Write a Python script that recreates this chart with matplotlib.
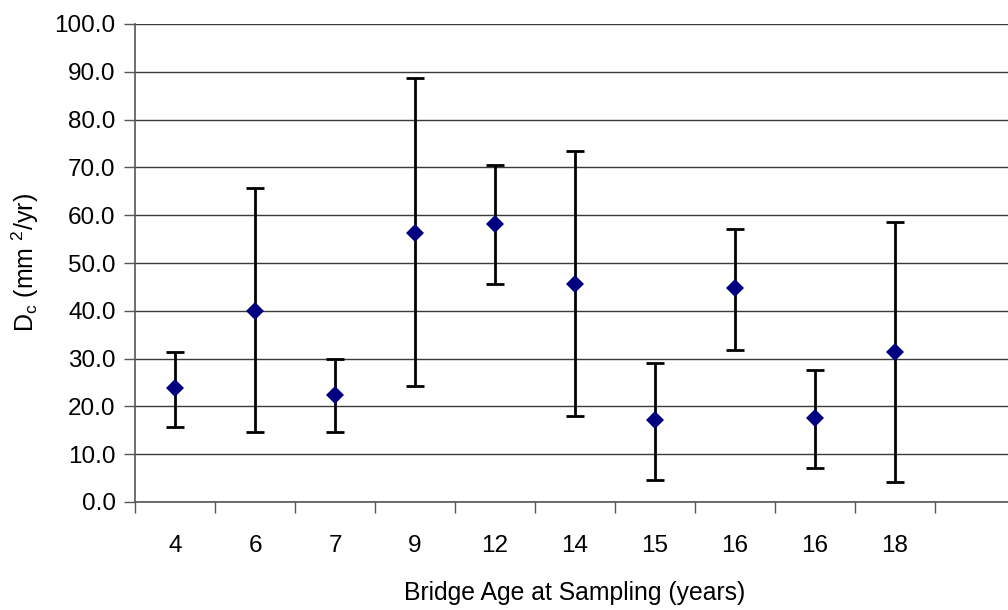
import numpy as np
import matplotlib.pyplot as plt

plt.rcParams['font.family'] = ['Liberation Sans', 'DejaVu Sans']

# bridge ages (two bridges were sampled at 16 years)
ages = ['4', '6', '7', '9', '12', '14', '15', '16', '16', '18']
dc_mean = [23.8, 40.0, 22.3, 56.2, 58.1, 45.7, 17.1, 44.7, 17.6, 31.4]
dc_upper = [31.3, 65.7, 29.9, 88.7, 70.5, 73.5, 29.0, 57.1, 27.6, 58.6]
dc_lower = [15.7, 14.7, 14.7, 24.2, 45.7, 18.0, 4.7, 31.9, 7.1, 4.2]

mean = np.array(dc_mean)
err = np.vstack([mean - np.array(dc_lower), np.array(dc_upper) - mean])
x = np.arange(len(ages)) + 0.5
n_slots = len(ages) + 1  # one empty category slot on the right

fig = plt.figure(figsize=(10.08, 6.10), dpi=100)
ax = fig.add_axes([135 / 1008, 1 - 502 / 610, 880 / 1008, 478 / 610])

ax.errorbar(x, mean, yerr=err, fmt='none', ecolor='black',
            elinewidth=2, capsize=6.5, capthick=2, zorder=3)
ax.plot(x, mean, linestyle='none', marker='D', markersize=9,
        color='#000080', markeredgewidth=0, zorder=4)

ax.set_xlim(0, n_slots)
ax.set_ylim(0, 100)
ax.set_yticks(np.arange(0, 101, 10))
ax.set_yticklabels([f'{v:.1f}' for v in np.arange(0, 101, 10)])
ax.set_xticks(np.arange(0, n_slots + 1))
ax.set_xticklabels([])
ax.set_xticks(x, minor=True)
ax.set_xticklabels(ages, minor=True)
ax.tick_params(axis='x', which='minor', length=0, pad=24, labelsize=17.5)
ax.tick_params(axis='x', which='major', length=8, width=1, color='#555555', direction='out')
ax.tick_params(axis='y', length=8, width=1, color='#555555', direction='out', pad=6, labelsize=17.5)

ax.grid(axis='y', color='#3a3a3a', linewidth=1)
ax.set_axisbelow(True)
for side in ['top', 'right']:
    ax.spines[side].set_visible(False)
for side in ['left', 'bottom']:
    ax.spines[side].set_color('#555555')
    ax.spines[side].set_linewidth(1.2)

ax.set_xlabel('Bridge Age at Sampling (years)', fontsize=17.8, labelpad=17)
ax.set_ylabel(r'D$_\mathregular{c}$ (mm $^\mathregular{2}$/yr)', fontsize=18, labelpad=10)

fig.savefig('out.png', dpi=100)
